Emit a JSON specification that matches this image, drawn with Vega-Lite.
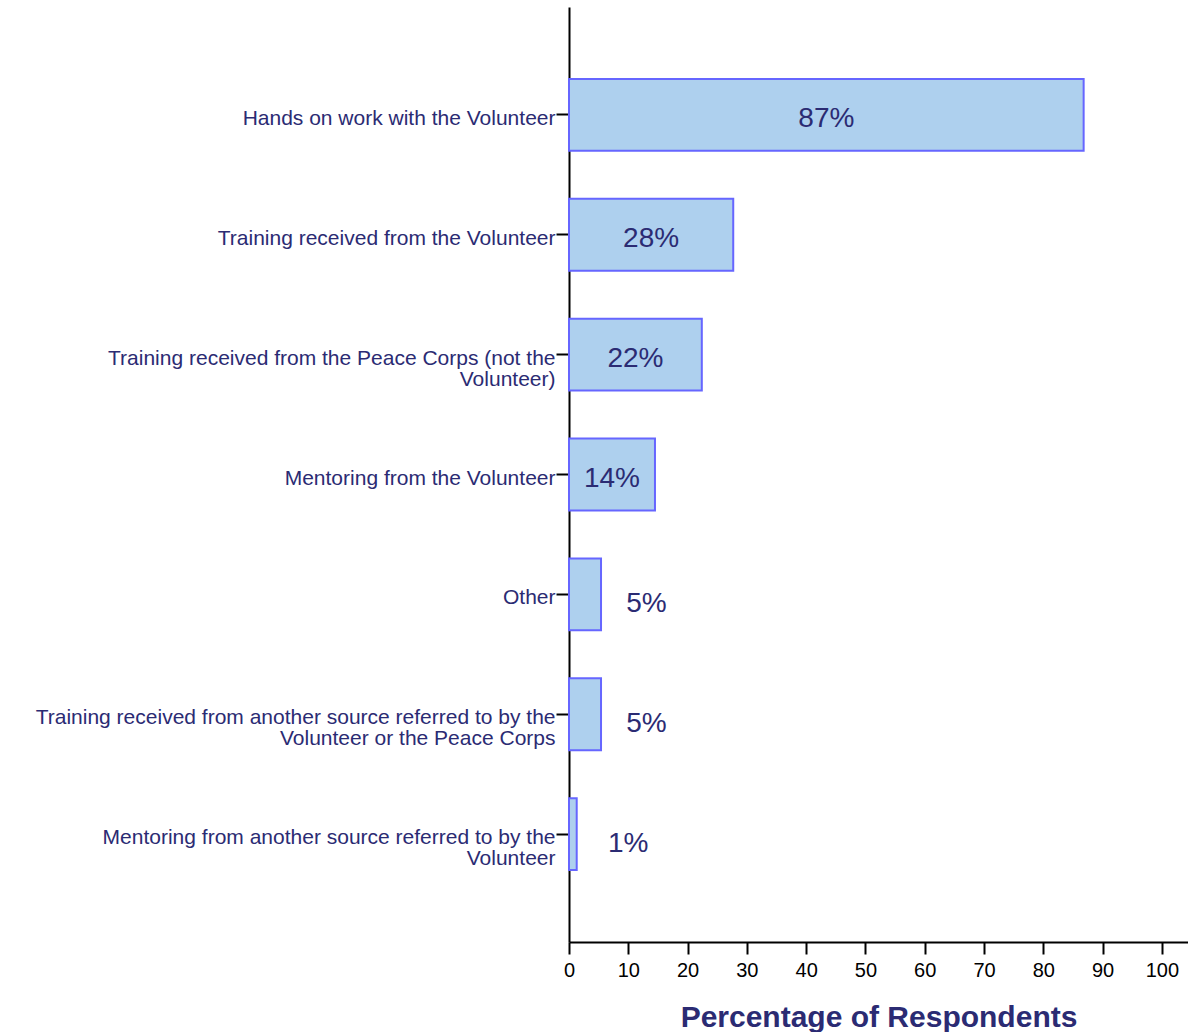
{
  "$schema": "https://vega.github.io/schema/vega-lite/v6.json",
  "autosize": "none",
  "width": 619,
  "height": 935,
  "padding": {"left": 569, "top": 7, "right": 0, "bottom": 90},
  "background": "white",
  "config": {"view": {"stroke": null}, "font": "Liberation Sans"},
  "data": {
    "values": [
      {"source": "Hands on work with the Volunteer", "value": 86.8, "label": "87%"},
      {"source": "Training received from the Volunteer", "value": 27.7, "label": "28%"},
      {"source": "Training received from the Peace Corps (not the|Volunteer)", "value": 22.4, "label": "22%"},
      {"source": "Mentoring from the Volunteer", "value": 14.5, "label": "14%"},
      {"source": "Other", "value": 5.4, "label": "5%"},
      {"source": "Training received from another source referred to by the|Volunteer or the Peace Corps", "value": 5.4, "label": "5%"},
      {"source": "Mentoring from another source referred to by the|Volunteer", "value": 1.3, "label": "1%"}
    ]
  },
  "transform": [
    {"calculate": "datum.value >= 10 ? datum.value / 2 : datum.value * 0.75 + 9", "as": "labelPos"}
  ],
  "encoding": {
    "y": {
      "field": "source",
      "type": "nominal",
      "sort": null,
      "scale": {"paddingInner": 0.4, "paddingOuter": 0.6},
      "axis": {
        "title": null,
        "labelExpr": "split(datum.label, '|')",
        "labelFont": "Liberation Sans",
        "labelFontSize": 21,
        "labelColor": "#2b2b73",
        "labelLineHeight": 21,
        "labelLimit": 600,
        "labelOffset": 4,
        "labelPadding": 1,
        "tickSize": 13,
        "tickColor": "#000000",
        "tickWidth": 2,
        "domainColor": "#000000",
        "domainWidth": 2
      }
    }
  },
  "layer": [
    {
      "mark": {"type": "bar", "fill": "#aed0ee", "stroke": "#6666ff", "strokeWidth": 2},
      "encoding": {
        "x": {
          "field": "value",
          "type": "quantitative",
          "scale": {"domain": [0, 104.4], "nice": false},
          "axis": {
            "title": "Percentage of Respondents",
            "titleFont": "Liberation Sans",
            "titleFontSize": 30,
            "titleFontWeight": "bold",
            "titleColor": "#2b2b73",
            "titlePadding": 22,
            "values": [0, 10, 20, 30, 40, 50, 60, 70, 80, 90, 100],
            "labelFont": "Liberation Sans",
            "labelFontSize": 20,
            "labelColor": "#000000",
            "labelPadding": 6,
            "labelFlush": false,
            "tickSize": 12,
            "tickWidth": 2,
            "tickColor": "#000000",
            "domainColor": "#000000",
            "domainWidth": 2,
            "grid": false
          }
        }
      }
    },
    {
      "transform": [{"filter": "datum.value >= 10"}],
      "mark": {"type": "text", "font": "Liberation Sans", "fontSize": 28, "color": "#2b2b73", "baseline": "middle", "align": "center", "dy": 4},
      "encoding": {
        "x": {"field": "labelPos", "type": "quantitative"},
        "text": {"field": "label"}
      }
    },
    {
      "transform": [{"filter": "datum.value < 10"}],
      "mark": {"type": "text", "font": "Liberation Sans", "fontSize": 28, "color": "#2b2b73", "baseline": "middle", "align": "center", "dy": 10},
      "encoding": {
        "x": {"field": "labelPos", "type": "quantitative"},
        "text": {"field": "label"}
      }
    }
  ]
}
